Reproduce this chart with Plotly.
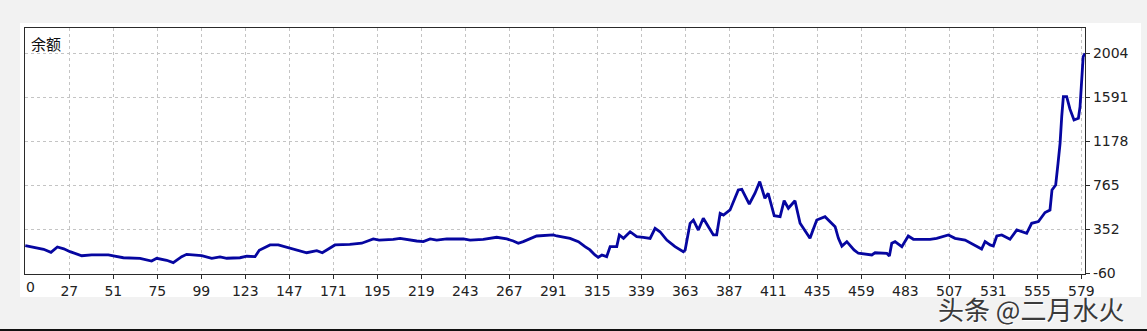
import plotly.graph_objects as go

# Trade number (x) and balance (y)
trades = [3, 8, 13, 17, 20.5, 24, 27.4, 33.8, 39.2, 48.3, 56.5, 65.6, 71.9, 74.7, 80.1, 83.7,
          88.3, 91, 99.2, 104.7, 109.2, 112.9, 120.1, 123.8, 128.3, 130.6, 136.5, 141, 147.4,
          152.8, 156.5, 162, 165, 169, 171.9, 180, 186.5, 192.8, 196, 203.7, 207.4, 216.5,
          220.1, 223.8, 227.4, 232.9, 242, 245.6, 252.8, 260.1, 265.6, 269.2, 271.9, 274.6,
          281.9, 291, 292.9, 300.1, 304.7, 308.3, 311, 313.7, 315.5, 317.5, 320.1, 322, 325.6,
          327, 329.3, 332.9, 336.5, 340.1, 343.8, 346.5, 349.2, 352.9, 357.4, 361.9, 362.9,
          365.6, 367.4, 370.1, 372.8, 375.6, 378.3, 380.1, 382, 383.8, 387.4, 391.9, 393.8,
          397.9, 401, 403.6, 406.4, 408.2, 411.5, 414.7, 416.9, 419.2, 422.8, 425.6, 431,
          432.8, 434.7, 439.2, 442.9, 444.7, 446.5, 448.4, 451.1, 455, 457.4, 464.7, 466.5,
          472.9, 474.3, 475.6, 477.4, 481.1, 484.6, 487.4, 496.5, 500.1, 506.5, 510.1, 515.6,
          521.9, 524.6, 526.5, 529.2, 531, 532.9, 535.6, 540.1, 543.8, 546.5, 549.2, 551.9,
          555.6, 559.2, 561.9, 563, 565, 566.3, 567.4, 568.3, 569.2, 571, 572.8, 575, 577.4,
          578.3, 579.2, 580, 581]
balance = [199, 185, 165, 137, 187, 170, 143, 105, 112, 112, 86, 81, 55, 81, 62, 40,
           96, 118, 105, 81, 93, 81, 86, 100, 96, 156, 206, 206, 175,
           149, 133, 152, 133, 175, 206, 212, 222, 262, 252, 259, 268, 243,
           237, 262, 252, 262, 262, 252, 259, 278, 262, 243, 222, 237,
           290, 300, 290, 268, 237, 190, 159, 112, 90, 112, 96, 190, 190,
           300, 268, 330, 283, 278, 268, 362, 330, 252, 190, 143, 159,
           409, 440, 346, 456, 377, 300, 300, 503, 487, 534, 722, 728,
           590, 691, 800, 644, 691, 480, 471, 621, 550, 621, 409, 268,
           353, 440, 471, 409, 377, 268, 195, 237, 159, 128, 112, 133,
           128, 102, 222, 237, 190, 290, 259, 259, 268, 300, 268, 252,
           190, 168, 237, 206, 196, 290, 300, 259, 346, 330, 315, 409,
           425, 510, 534, 722, 768, 973, 1160, 1410, 1598, 1598, 1480, 1379, 1395,
           1504, 1723, 1973, 2004]

x_ticks = [27, 51, 75, 99, 123, 147, 171, 195, 219, 243, 267, 291, 315, 339, 363, 387,
           411, 435, 459, 483, 507, 531, 555, 579]
y_ticks = [-60, 352, 765, 1178, 1591, 2004]
y_label = "余额"
watermark = "头条 @二月水火"

fig = go.Figure()
fig.add_trace(go.Scatter(x=trades, y=balance, mode="lines",
                         line=dict(color="#0606a0", width=2.8), hoverinfo="skip"))

W, H = 1147, 331
L, R, T, B = 25, 62, 28, 57
pw, ph = W - L - R, H - T - B

def px_x(p):
    return (p - L) / pw

def px_y(p):
    return (H - B - p) / ph

fig.update_layout(
    width=W, height=H,
    margin=dict(l=L, r=R, t=T, b=B, pad=0),
    paper_bgcolor="#f2f2f2",
    plot_bgcolor="#ffffff",
    showlegend=False,
    font=dict(family="DejaVu Sans", size=14, color="#222222"),
    xaxis=dict(range=[2.84, 581.0], tickvals=x_ticks, ticktext=[str(v) for v in x_ticks],
               showgrid=True, gridcolor="#c4c4c4", griddash="3px,3px", gridwidth=1,
               showline=True, linecolor="#2a2a2a", linewidth=1.2, mirror=True,
               ticks="outside", ticklen=4, tickcolor="#2a2a2a", zeroline=False,
               tickfont=dict(family="DejaVu Sans", size=14, color="#222222")),
    yaxis=dict(range=[-66.6, 2241.5], tickvals=y_ticks, ticktext=[str(v) for v in y_ticks],
               side="right", showgrid=True, gridcolor="#c4c4c4", griddash="3px,3px",
               gridwidth=1, showline=True, linecolor="#2a2a2a", linewidth=1.2, mirror=True,
               ticks="outside", ticklen=4, tickcolor="#2a2a2a", zeroline=False,
               tickfont=dict(family="DejaVu Sans", size=14, color="#222222")),
    shapes=[
        dict(type="rect", xref="paper", yref="paper", layer="below",
             x0=px_x(20), x1=px_x(1141), y0=px_y(297), y1=px_y(23),
             fillcolor="#ffffff", line=dict(width=0)),
        dict(type="line", xref="paper", yref="paper",
             x0=px_x(0), x1=px_x(1147), y0=px_y(330), y1=px_y(330),
             line=dict(color="#111111", width=2)),
    ],
    annotations=[
        dict(text=y_label, xref="paper", yref="paper", x=px_x(29), y=px_y(31),
             xanchor="left", yanchor="top", showarrow=False,
             font=dict(family="Noto Sans CJK SC", size=15, color="#111111")),
        dict(text="0", xref="paper", yref="paper", x=px_x(30), y=px_y(287),
             xanchor="center", yanchor="middle", showarrow=False,
             font=dict(family="DejaVu Sans", size=14, color="#222222")),
        dict(text=watermark, xref="paper", yref="paper", x=px_x(1031), y=px_y(308),
             xanchor="center", yanchor="middle", showarrow=False, borderpad=0,
             font=dict(family="Noto Sans CJK SC", size=26, color="#3a3a3a",
                       shadow="1px 1px 1px #ffffff")),
    ],
)

fig.write_html("out.html")
